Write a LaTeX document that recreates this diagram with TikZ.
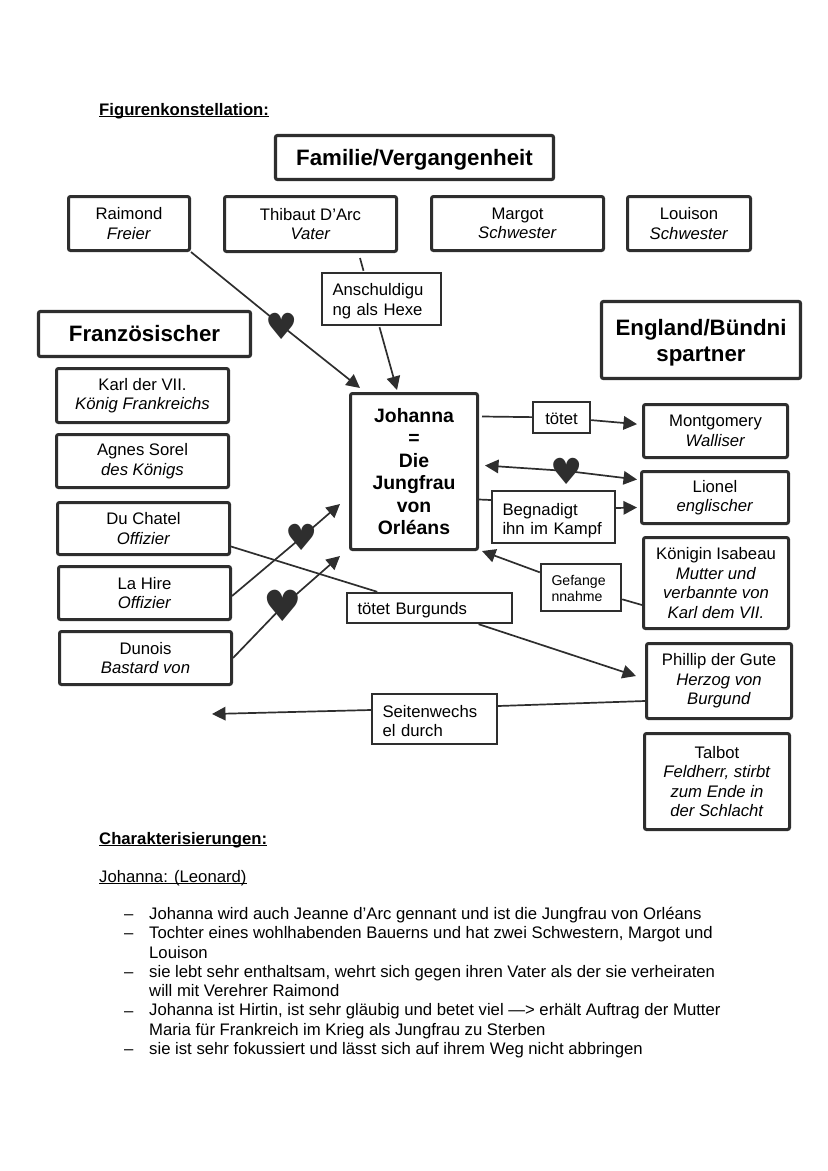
\documentclass[tikz,border=0pt]{standalone}
\usepackage{fontspec}
\setmainfont{Liberation Sans}
\newfontfamily\herzfont{DejaVu Sans}
\usetikzlibrary{arrows.meta}
\definecolor{ink}{HTML}{2E2E2E}
\begin{document}
\begin{tikzpicture}[x=1pt, y=-1pt,
		person/.style={draw=ink, line width=3pt, fill=white, rounded corners=2pt, align=center, inner sep=0pt,
			font=\fontsize{16.7}{19.5}\selectfont},
		titel/.style={person, line width=3.2pt, font=\fontsize{22.3}{26}\selectfont\bfseries},
		aktion/.style={draw=ink, line width=2.4pt, fill=white, align=left, inner xsep=10.5pt, inner ysep=0pt,
			text width=#1-21, text height=16.5pt, font=\fontsize{16.7}{19.5}\selectfont},
		herz/.style={text=ink, inner sep=0pt, font=\fontsize{36}{36}\herzfont},
		kante/.style={ink, line width=1.7pt},
		pfeil/.style={kante, -{Triangle[length=13.5pt,width=13.5pt]}},
		doppelpfeil/.style={kante, {Triangle[length=13.5pt,width=13.5pt]}-{Triangle[length=13.5pt,width=13.5pt]}},
		liste/.style={anchor=base west, inner sep=0pt, align=left, font=\fontsize{16.7}{19.4}\selectfont}]
	\useasboundingbox (0,0) rectangle (828,1171);
	% headings
	\node[liste] (head1) at (99,115) {\textbf{\underline{\smash{Figurenkonstellation:}}}};
	\node[liste] (head2) at (99,844) {\textbf{\underline{\smash{Charakterisierungen:}}}};
	\node[liste] (head3) at (99,882) {\underline{\smash{Johanna: (Leonard)}}};

	% family
	\node[titel, minimum width=278, minimum height=44, text height=20pt] (familie) at (414.5,157.5) {Familie/Vergangenheit};
	\node[person, minimum width=121, minimum height=54] (raimond) at (129,223.5) {Raimond\\\textit{Freier}};
	\node[person, minimum width=172, minimum height=55] (thibaut) at (310.5,224) {Thibaut D'Arc\\\textit{Vater}};
	\node[person, minimum width=172, minimum height=54] (margot) at (517.5,223.5) {Margot\\\textit{Schwester}};
	\node[person, minimum width=123, minimum height=54] (louison) at (689,223.5) {Louison\\\textit{Schwester}};

	% french side
	\node[titel, minimum width=212, minimum height=45] (franz) at (144.5,334) {Französischer};
	\node[person, minimum width=172, minimum height=54] (karl) at (142.5,395.5) {Karl der VII.\\\textit{König Frankreichs}};
	\node[person, minimum width=172, minimum height=53] (agnes) at (142.5,461) {Agnes Sorel\\\textit{des Königs}};
	\node[person, minimum width=172, minimum height=52] (chatel) at (143.5,528.5) {Du Chatel\\\textit{Offizier}};
	\node[person, minimum width=172, minimum height=53] (hire) at (144.5,593) {La Hire\\\textit{Offizier}};
	\node[person, minimum width=172, minimum height=53] (dunois) at (145.5,658) {Dunois\\\textit{Bastard von}};

	% english side
	\node[titel, minimum width=199, minimum height=77] (england) at (701,340) {\rule{0pt}{22pt}England/Bündni\\spartner};
	\node[person, minimum width=144, minimum height=53] (montgomery) at (715.5,431) {Montgomery\\\textit{Walliser}};
	\node[person, minimum width=147, minimum height=52] (lionel) at (715,497.5) {Lionel\\\textit{englischer}};
	\node[person, minimum width=145, minimum height=91] (isabeau) at (716,583) {Königin Isabeau\\\textit{Mutter und}\\\textit{verbannte von}\\\textit{Karl dem VII.}};
	\node[person, minimum width=145, minimum height=75] (phillip) at (719,681) {Phillip der Gute\\\textit{Herzog von}\\\textit{Burgund}};
	\node[person, minimum width=145, minimum height=96] (talbot) at (717,781.5) {Talbot\\\textit{Feldherr, stirbt}\\\textit{zum Ende in}\\\textit{der Schlacht}};

	% center
	\node[person, minimum width=127, minimum height=156, font=\fontsize{19.4}{22.4}\selectfont\bfseries] (johanna) at (414,471.5) {Johanna\\=\\Die\\Jungfrau\\von\\Orléans};

	% labels on the arrows
	\node[aktion=119, minimum height=52] (anschuldigung) at (381.5,299) {Anschuldigu\\ng als Hexe};
	\node[aktion=57, minimum height=31, align=center, text height=15pt] (toetet) at (561.5,417.5) {tötet};
	\node[aktion=123, minimum height=52, text height=19pt] (begnadigt) at (553.5,517) {Begnadigt\\ihn im Kampf};
	\node[aktion=80, minimum height=47, text height=12pt, font=\fontsize{14.1}{16.5}\selectfont] (gefangen) at (581,587.5) {Gefange\\nnahme};
	\node[aktion=165, minimum height=30] (burgunds) at (429.5,608) {tötet Burgunds};
	\node[aktion=125, minimum height=50] (seitenwechsel) at (434.5,719) {Seitenwechs\\el durch};

	% free ends
	\coordinate (ende1) at (360,388);
	\coordinate (ende2) at (397,390);
	\coordinate (ende3) at (340,504);
	\coordinate (ende4) at (340,556);
	\coordinate (ende5) at (636,676);
	\coordinate (ende6) at (212,714);
	\coordinate (start1) at (360,258);
	\coordinate (mitte1) at (282,326);
	\coordinate (mitte2) at (567,471);
	\coordinate (mitte3) at (302,537);
	\coordinate (mitte4) at (283,606);

	% connectors
	\draw[pfeil] (raimond.south east) -- (mitte1) -- (ende1);
	\draw[kante] (start1) -- ([shift={(-18pt,1pt)}]anschuldigung.north);
	\draw[pfeil] ([shift={(-2pt,-1pt)}]anschuldigung.south) -- (ende2);
	\draw[kante] ([shift={(3pt,55pt)}]johanna.east) -- (toetet);
	\draw[pfeil, shorten >=5pt] (toetet) -- (montgomery);
	\draw[doppelpfeil] ([shift={(6pt,6pt)}]johanna.east) -- (mitte2) -- ([shift={(-3pt,18pt)}]lionel.west);
	\draw[kante] ([yshift=-28pt]johanna.east) -- ([yshift=17pt]begnadigt.west);
	\draw[pfeil] ([yshift=9pt]begnadigt.east) -- ([shift={(-3pt,-10pt)}]lionel.west);
	\draw[pfeil] (gefangen) -- ([shift={(3pt,0pt)}]johanna.south east);
	\draw[kante] (gefangen) -- ([yshift=-22pt]isabeau.west);
	\draw[kante] ([yshift=-18pt]chatel.east) -- (burgunds);
	\draw[pfeil] (burgunds) -- (ende5);
	\draw[kante] ([yshift=-20pt]phillip.west) -- ([yshift=13pt]seitenwechsel.east);
	\draw[pfeil] ([yshift=9pt]seitenwechsel.west) -- (ende6);
	\draw[pfeil] ([yshift=-3pt]hire.east) -- (mitte3) -- (ende3);
	\draw[pfeil] (dunois.east) -- (mitte4) -- (ende4);

	% hearts
	\node[herz] (herz1) at (mitte1) {♥};
	\node[herz] (herz2) at (mitte2) {♥};
	\node[herz] (herz3) at (mitte3) {♥};
	\node[herz, font=\fontsize{43}{43}\herzfont] (herz4) at (mitte4) {♥};

	% list
	\foreach \y [count=\p] in {919,938,977,1016,1054} {
		\node[liste] (strich\p) at (124,\y) {--};
	};
	\node[liste] (zeile1) at (149,919) {Johanna wird auch Jeanne d’Arc gennant und ist die Jungfrau von Orléans};
	\node[liste] (zeile2) at (149,958) {Tochter eines wohlhabenden Bauerns und hat zwei Schwestern, Margot und\\Louison};
	\node[liste] (zeile3) at (149,996.5) {sie lebt sehr enthaltsam, wehrt sich gegen ihren Vater als der sie verheiraten\\will mit Verehrer Raimond};
	\node[liste] (zeile4) at (149,1035) {Johanna ist Hirtin, ist sehr gläubig und betet viel —> erhält Auftrag der Mutter\\Maria für Frankreich im Krieg als Jungfrau zu Sterben};
	\node[liste] (zeile5) at (149,1054) {sie ist sehr fokussiert und lässt sich auf ihrem Weg nicht abbringen};
\end{tikzpicture}
\end{document}
